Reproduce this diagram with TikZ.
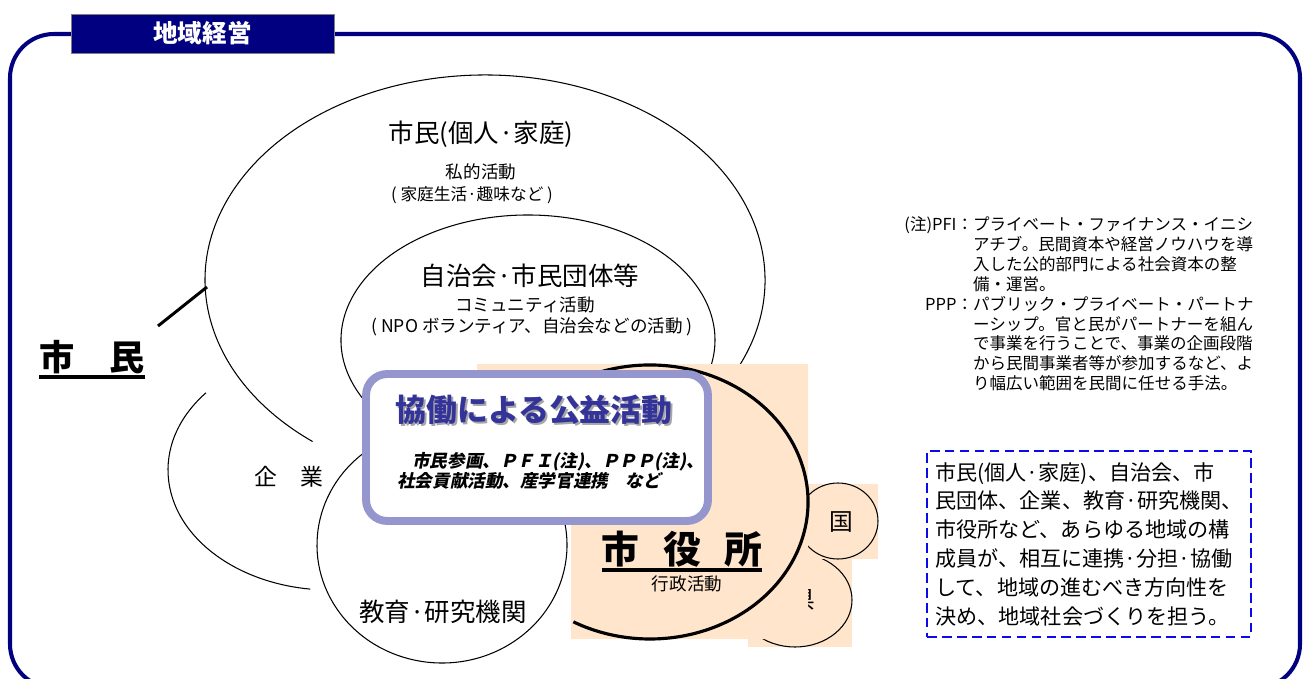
\documentclass[tikz,border=0pt]{standalone}
\usepackage{fontspec}
\setmainfont{Noto Sans CJK JP}
\newfontfamily\jpslant{Noto Sans CJK JP}[FakeSlant=0.2]
\usepackage{tikz}
\usetikzlibrary{positioning,calc}
\definecolor{kmNavy}{RGB}{0,0,128}
\definecolor{kmBeige}{RGB}{255,229,204}
\definecolor{kmLavender}{RGB}{150,150,206}
\definecolor{kmIndigo}{RGB}{51,51,153}
\definecolor{kmDash}{RGB}{10,10,235}
\tikzset{
    kmFrame/.style={draw=kmNavy, line width=2.3pt, rounded corners=25pt},
    kmTitle/.style={
        rectangle,
        draw=gray,
        fill=kmNavy,
        text=white,
        minimum width=5.26cm,
        minimum height=0.78cm,
        font=\fontsize{14}{16}\selectfont\bfseries
    },
    kmRing/.style={draw=black, line width=0.6pt},
    kmCityRing/.style={draw=black, line width=1.8pt},
    kmBig/.style={font=\fontsize{14.5}{17}\selectfont, inner sep=0pt},
    kmSmall/.style={font=\fontsize{10}{12}\selectfont, inner sep=0pt},
    kmHead/.style={font=\fontsize{20}{24}\selectfont\bfseries, inner sep=0pt},
    kmUnder/.style={line width=2.2pt},
    % box in the middle
    kmBox/.style={
        rectangle,
        rounded corners=12pt,
        draw=kmLavender,
        fill=white,
        line width=4.5pt,
        minimum width=6.84cm,
        minimum height=2.94cm
    },
    kmBoxTitle/.style={font=\fontsize{17.6}{20}\selectfont\bfseries, inner sep=0pt},
    kmBoxLine/.style={font=\fontsize{10}{12}\selectfont\jpslant\bfseries, inner sep=0pt, anchor=west}
}

\begin{document}
\begin{tikzpicture}[x=0.02cm, y=-0.02cm]
\useasboundingbox (0,0) rectangle (1309,679);

\draw[kmFrame] (10,34) rectangle (1300,688);
\node[kmTitle] (title) at (202.5,33.5) {地域経営};

% circles of the citizens
\draw[kmRing] (330,470) ++(220:162 and 120) arc[start angle=220, end angle=97, x radius=162, y radius=120];
\draw[kmRing] (485,280) ++(28:280 and 205) arc[start angle=28, end angle=-232, x radius=280, y radius=205];
\draw[kmRing] (528,340) ++(151:187 and 125) arc[start angle=151, end angle=380, x radius=187, y radius=125];
\draw[kmRing] (442,545) ++(235:125 and 118) arc[start angle=235, end angle=-20, x radius=125, y radius=118];

% prefecture and state
\fill[kmBeige] (748,553) rectangle (852,647);
\draw[kmRing] (795,600) ellipse [x radius=57, y radius=47];
\node[font=\fontsize{13.5}{16}\selectfont, inner sep=0pt] (ken) at (803,600) {県};
\fill[kmBeige] (798,484) rectangle (878,559);
\draw[kmRing] (838,521) ellipse [x radius=40, y radius=38];
\node[font=\fontsize{13.5}{16}\selectfont, inner sep=0pt] (kuni) at (841,522) {国};

% city hall
\fill[kmBeige] (477,364) -- (808,364) -- (808,639) -- (571,639) -- (571,500) -- (477,500) -- cycle;
\draw[kmCityRing] (650,502) ++(248:158 and 137) arc[start angle=248, end angle=479, x radius=158, y radius=137];
\node[kmHead, font=\fontsize{21.5}{25}\selectfont\bfseries] (shiyakusho) at (682,549) {市\hspace{0.62em}役\hspace{0.62em}所};
\draw[kmUnder] ([yshift=-4pt]shiyakusho.base west) -- ([yshift=-4pt]shiyakusho.base east);
\node[kmSmall] (gyosei) at (687,584) {行政活動};

% middle box
\node[kmBox] (kyodo) at (537,447.5) {};
\node[kmBoxTitle, text=gray!70] (kyodoShadow) at (536,412) {協働による公益活動};
\node[kmBoxTitle, text=kmIndigo] (kyodoTitle) at (534,410) {協働による公益活動};
\node[kmBoxLine] (kyodoLine1) at (412,462) {市民参画、ＰＦＩ(注)、ＰＰＰ(注)、};
\node[kmBoxLine] (kyodoLine2) at (397,481) {社会貢献活動、産学官連携　など};

% labels
\node[kmBig] (kojin) at (481,134) {市民(個人·家庭)};
\node[kmSmall] (shiteki) at (481,172) {私的活動};
\node[kmSmall, font=\fontsize{9.5}{12}\selectfont] (shitekiEx) at (472,195) {( 家庭生活·趣味など )};
\node[kmBig] (jichikai) at (530,276) {自治会·市民団体等};
\node[kmSmall] (community) at (525,305) {コミュニティ活動};
\node[kmSmall] (communityEx) at (532,327) {( NPO ボランティア、自治会などの活動 )};
\node[kmBig, font=\fontsize{13}{16}\selectfont] (kigyo) at (289,477) {企　業};
\node[kmBig] (kyoiku) at (443,612) {教育·研究機関};

\node[kmHead] (shimin) at (92,357) {市　民};
\draw[kmUnder] ([yshift=-4pt]shimin.base west) -- ([yshift=-4pt]shimin.base east);
\coordinate (shiminFoot) at (158,326);
\coordinate (shiminTip) at (207,287);
\draw[line width=1.7pt] (shiminFoot) -- (shiminTip);

% notes
\node[inner sep=0pt, font=\fontsize{9.4}{11.2}\selectfont] (note) at (1079,306) {%
\begin{tabular}{@{}r@{}l@{}}
(注)PFI：&プライベート・ファイナンス・イニシ\\
&アチブ。民間資本や経営ノウハウを導\\
&入した公的部門による社会資本の整\\
&備・運営。\\
PPP：&パブリック・プライベート・パートナ\\
&ーシップ。官と民がパートナーを組ん\\
&で事業を行うことで、事業の企画段階\\
&から民間事業者等が参加するなど、よ\\
&り幅広い範囲を民間に任せる手法。
\end{tabular}};

\node[draw=kmDash, line width=1.5pt, dash pattern=on 5.5pt off 3pt, minimum width=6.48cm, minimum height=3.72cm,
      align=left, font=\fontsize{12}{16.4}\selectfont] (summary) at (1089,544) {%
市民(個人·家庭)、自治会、市\\
民団体、企業、教育·研究機関、\\
市役所など、あらゆる地域の構\\
成員が、相互に連携·分担·協働\\
して、地域の進むべき方向性を\\
決め、地域社会づくりを担う。};
\end{tikzpicture}
\end{document}
